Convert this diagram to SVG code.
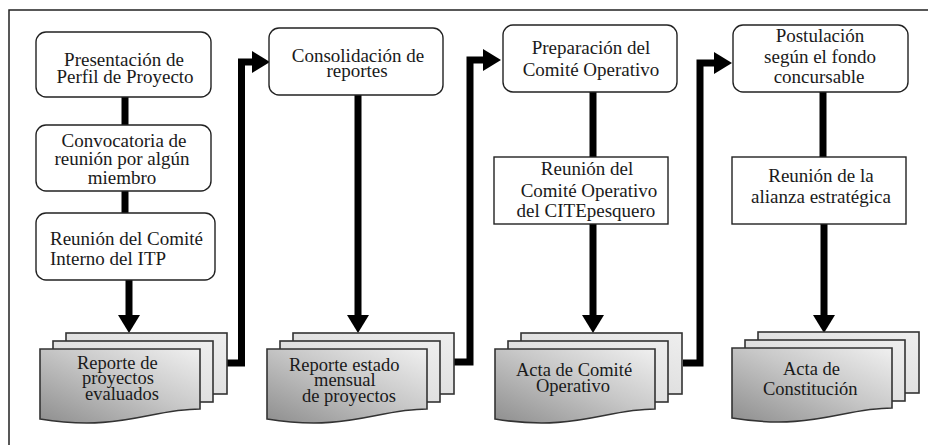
<svg xmlns="http://www.w3.org/2000/svg" width="928" height="445" viewBox="0 0 928 445">
<defs>
<style>
text{font-family:'Liberation Serif','Times New Roman',serif;font-size:19px;fill:#1a1a1a}
.c{text-anchor:middle}
.d{font-size:18.5px}
.box{fill:#fff;stroke:#222;stroke-width:1.4}
.sheet{fill:url(#gl);stroke:#333;stroke-width:1.6}
.front{fill:url(#gf);stroke:#333;stroke-width:1.6}
.ln{fill:none;stroke:#000;stroke-width:7;stroke-linejoin:miter}
</style>
<linearGradient id="gf" x1="0" y1="1" x2="1" y2="0">
<stop offset="0" stop-color="#8e8e8e"/>
<stop offset="0.55" stop-color="#c8c8c8"/>
<stop offset="1" stop-color="#f0f0f0"/>
</linearGradient>
<linearGradient id="gl" x1="0" y1="1" x2="1" y2="0">
<stop offset="0" stop-color="#d4d4d4"/>
<stop offset="1" stop-color="#eeeeee"/>
</linearGradient>
<marker id="ah" markerUnits="userSpaceOnUse" markerWidth="20" markerHeight="24" refX="0" refY="11" orient="auto" overflow="visible">
<path d="M0,0 L18,11 L0,22 Z" fill="#000"/>
</marker>
<g id="stack">
<rect class="sheet" x="26" y="0" width="161" height="61"/>
<rect class="sheet" x="13" y="8" width="160" height="61"/>
<path class="front" d="M0,16 H160 V76 C110,76 80,99 0,86 Z"/>
</g>
</defs>
<path d="M9,445 V10 H928" fill="none" stroke="#222" stroke-width="1.5"/>
<g id="connectors">
<path class="ln" d="M125,97 V125"/>
<path class="ln" d="M125,191 V213"/>
<path class="ln" d="M129,280 V315" marker-end="url(#ah)"/>
<path class="ln" d="M226,363 H241.5 V62 H252" marker-end="url(#ah)"/>
<path class="ln" d="M358,95 V315" marker-end="url(#ah)"/>
<path class="ln" d="M453,362 H470 V60 H483" marker-end="url(#ah)"/>
<path class="ln" d="M593,92 V157"/>
<path class="ln" d="M593,224 V315" marker-end="url(#ah)"/>
<path class="ln" d="M683,363 H700 V63 H714" marker-end="url(#ah)"/>
<path class="ln" d="M823,92 V157"/>
<path class="ln" d="M824,224 V315" marker-end="url(#ah)"/>
</g>
<g id="n1">
<rect class="box" x="36" y="32" width="175" height="65" rx="10"/>
<text class="c" x="124" y="66">Presentación de</text>
<text class="c" x="125" y="83">Perfil  de Proyecto</text>
</g>
<g id="n2">
<rect class="box" x="36" y="125" width="175" height="66" rx="10"/>
<text class="c" x="124" y="147">Convocatoria de</text>
<text class="c" x="122" y="165">reunión por algún</text>
<text class="c" x="122" y="184">miembro</text>
</g>
<g id="n3">
<rect class="box" x="36" y="213" width="179" height="67" rx="10"/>
<text x="50" y="245">Reunión del Comité</text>
<text x="50" y="265">Interno del ITP</text>
</g>
<g id="d1">
<use href="#stack" x="40" y="333"/>
<text class="d" x="77" y="369">Reporte de</text>
<text class="d" x="82" y="384">proyectos</text>
<text class="d" x="85" y="400">evaluados</text>
</g>
<g id="n4">
<rect class="box" x="269" y="28" width="174" height="67" rx="10"/>
<text class="c" x="358" y="62">Consolidación de</text>
<text class="c" x="357" y="77">reportes</text>
</g>
<g id="d2">
<use href="#stack" x="267" y="333"/>
<text class="d" x="289" y="371">Reporte estado</text>
<text class="d" x="314" y="386">mensual</text>
<text class="d" x="302" y="402">de proyectos</text>
</g>
<g id="n5">
<rect class="box" x="503" y="25" width="174" height="67" rx="10"/>
<text class="c" x="591" y="54">Preparación del</text>
<text class="c" x="591" y="76">Comité Operativo</text>
</g>
<g id="n6">
<rect class="box" x="494" y="157" width="174" height="67"/>
<text class="c" x="587" y="175">Reunión del</text>
<text class="c" x="589" y="197">Comité Operativo</text>
<text class="c" x="586" y="217">del CITEpesquero</text>
</g>
<g id="d3">
<use href="#stack" x="495" y="333"/>
<text class="d" x="516" y="376">Acta de Comité</text>
<text class="d" x="536" y="392">Operativo</text>
</g>
<g id="n7">
<rect class="box" x="733" y="25" width="175" height="67" rx="10"/>
<text class="c" x="820" y="42">Postulación</text>
<text class="c" x="820" y="63">según el fondo</text>
<text class="c" x="819" y="83">concursable</text>
</g>
<g id="n8">
<rect class="box" x="732" y="157" width="174" height="67"/>
<text class="c" x="821" y="182">Reunión de la</text>
<text class="c" x="821" y="203">alianza  estratégica</text>
</g>
<g id="d4">
<use href="#stack" x="732" y="332"/>
<text class="d" x="783" y="375">Acta de</text>
<text class="d" x="763" y="395">Constitución</text>
</g>
</svg>
